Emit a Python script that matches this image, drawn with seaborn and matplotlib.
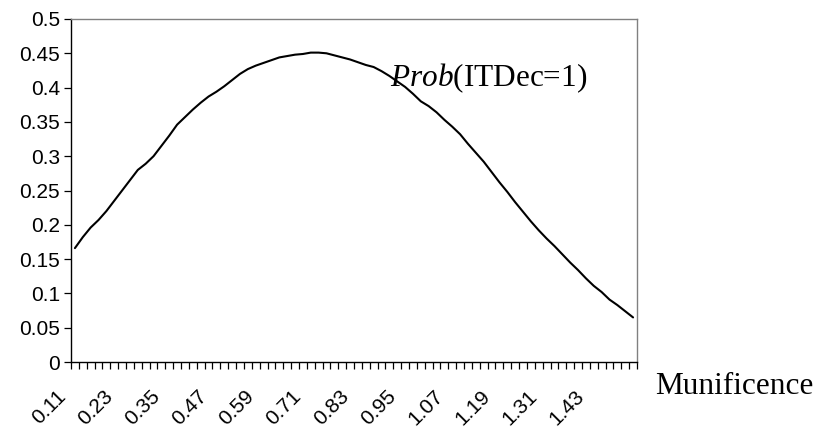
import numpy as np
import pandas as pd
import matplotlib
matplotlib.use("Agg")
import matplotlib.pyplot as plt
import matplotlib.transforms as mtransforms
import seaborn as sns

# ---- data ----
munificence = [round(0.11 + 0.02 * k, 2) for k in range(72)]
prob = [0.166, 0.182, 0.196, 0.207, 0.220, 0.235, 0.250, 0.265, 0.280, 0.289,
        0.300, 0.315, 0.330, 0.346, 0.357, 0.368, 0.378, 0.387, 0.394, 0.402,
        0.411, 0.420, 0.427, 0.432, 0.436, 0.440, 0.444, 0.446, 0.448, 0.449,
        0.451, 0.451, 0.450, 0.447, 0.444, 0.441, 0.437, 0.433, 0.430, 0.424,
        0.417, 0.409, 0.401, 0.391, 0.380, 0.373, 0.364, 0.353, 0.343, 0.332,
        0.318, 0.305, 0.292, 0.277, 0.262, 0.248, 0.233, 0.219, 0.205, 0.192,
        0.180, 0.169, 0.157, 0.145, 0.134, 0.122, 0.111, 0.102, 0.091, 0.083,
        0.074, 0.065]
x_labels = [f"{v:.2f}" for v in munificence]
label_every = 6
y_ticks = [0, 0.05, 0.1, 0.15, 0.2, 0.25, 0.3, 0.35, 0.4, 0.45, 0.5]
y_ticklabels = ["0", "0.05", "0.1", "0.15", "0.2", "0.25", "0.3", "0.35", "0.4", "0.45", "0.5"]
curve_label = r"$\mathit{Prob}$(ITDec=1)"
x_title = "Munificence"

df = pd.DataFrame({"Munificence": x_labels, "Prob": prob})

sns.set_theme(style="white")
plt.rcParams["font.family"] = ["Liberation Sans", "DejaVu Sans"]
plt.rcParams["mathtext.fontset"] = "custom"
plt.rcParams["mathtext.it"] = "Liberation Serif:italic"
plt.rcParams["mathtext.rm"] = "Liberation Serif"
plt.rcParams["text.color"] = "black"
plt.rcParams["xtick.color"] = "black"
plt.rcParams["ytick.color"] = "black"
plt.rcParams["xtick.labelcolor"] = "black"
plt.rcParams["ytick.labelcolor"] = "black"

fig = plt.figure(figsize=(8.2, 4.29), dpi=100)
ax = fig.add_axes([71 / 820, 1 - 362 / 429, (637 - 71) / 820, (362 - 19) / 429])

sns.lineplot(data=df, x="Munificence", y="Prob", sort=False, color="black",
             linewidth=1.5, ax=ax)

n = len(x_labels)
ax.set_xlim(-0.5, n - 0.5)
ax.set_ylim(0, 0.5)

# x: category boundaries as tick marks, labels at category centres
major_pos = list(range(0, n, label_every))
ax.set_xticks(major_pos)
ax.set_xticklabels([x_labels[i] for i in major_pos], rotation=45,
                   ha="right", va="top", rotation_mode="anchor",
                   fontsize=15, color="black")
ax.set_xticks(np.arange(n + 1) - 0.5, minor=True)
ax.tick_params(axis="x", which="major", length=0, pad=18)
ax.tick_params(axis="x", which="minor", length=5, width=0.9, direction="out",
               color="black", bottom=True)
shift = mtransforms.ScaledTranslation(-19 / 100, 0, fig.dpi_scale_trans)
for lab in ax.get_xticklabels():
    lab.set_transform(lab.get_transform() + shift)

ax.set_yticks(y_ticks)
ax.set_yticklabels(y_ticklabels, fontsize=15, color="black")
ax.tick_params(axis="y", length=5, width=0.9, direction="out", color="black",
               left=True, pad=3)

for s in ["left", "bottom"]:
    ax.spines[s].set_color("black")
    ax.spines[s].set_linewidth(1.0)
for s in ["top", "right"]:
    ax.spines[s].set_color("#808080")
    ax.spines[s].set_linewidth(1.0)

ax.set_xlabel("")
ax.set_ylabel("")
ax.grid(False)

fig.text(390 / 820, 1 - 78 / 429, curve_label, fontsize=22.5,
         family=["Liberation Serif"], va="center", ha="left", color="black")
fig.text(655 / 820, 1 - 386 / 429, x_title, fontsize=22.5,
         family=["Liberation Serif"], va="center", ha="left", color="black")

fig.savefig("out.png", dpi=100)
